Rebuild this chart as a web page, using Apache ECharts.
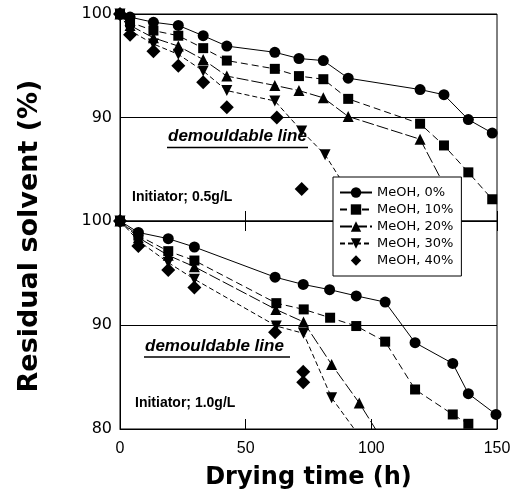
<!DOCTYPE html>
<html>
<head>
<meta charset="utf-8">
<script src="https://cdn.jsdelivr.net/npm/echarts@6/dist/echarts.min.js"></script>
<style>
html,body{margin:0;padding:0;background:#fff;}
#chart{width:514px;height:497px;}
</style>
</head>
<body>
<div id="chart"></div>
<script>
// ---- data (drying time h, residual solvent %) ----
const seriesNames = ['MeOH, 0%', 'MeOH, 10%', 'MeOH, 20%', 'MeOH, 30%', 'MeOH, 40%'];

// Top panel: initiator 0.5 g/L
const top_MeOH0  = [[0,100],[4,99.7],[13.3,99.2],[23.2,98.9],[33.1,97.9],[42.5,96.9],[61.6,96.3],[71.2,95.7],[80.9,95.5],[90.8,93.8],[119.4,92.7],[128.9,92.2],[138.6,89.8],[148.1,88.5]];
const top_MeOH10 = [[0,100],[4,99.2],[13.3,98.4],[23.2,97.9],[33.1,96.7],[42.5,95.5],[61.6,94.7],[71.2,94.0],[80.9,93.7],[90.8,91.8],[119.4,89.4],[128.9,87.3],[138.6,84.7],[148.1,82.1]];
const top_MeOH20 = [[0,100],[4,98.9],[13.3,97.7],[23.2,96.9],[33.1,95.6],[42.5,94.0],[61.6,93.1],[71.2,92.6],[80.9,91.9],[90.8,90.1],[119.4,87.9],[128.9,83.5]];
const top_MeOH30 = [[0,100],[4,98.4],[13.3,97.1],[23.2,96.1],[33.1,94.5],[42.5,92.6],[61.6,91.6],[72.3,88.7],[81.6,86.4],[91.5,82.6]];
const top_MeOH40 = [[0,100],[4,98.0],[13.3,96.4],[23.2,95.0],[33.1,93.4],[42.5,91.0],[62.4,90.0],[72.3,83.1]];

// Bottom panel: initiator 1.0 g/L
const bot_MeOH0  = [[0,100],[7.3,98.9],[19.2,98.3],[29.6,97.5],[61.7,94.6],[72.9,93.9],[83.4,93.4],[94,92.8],[105.5,92.2],[117.4,88.3],[132.4,86.3],[138.6,83.4],[149.6,81.4]];
const bot_MeOH10 = [[0,100],[7.3,98.6],[19.2,97.1],[29.6,96.2],[62.2,92.1],[73.1,91.5],[83.6,90.7],[94,89.9],[105.5,88.4],[117.4,83.8],[132.4,81.4],[138.6,80.5]];
const bot_MeOH20 = [[0,100],[7.3,98.4],[19.2,96.7],[29.6,95.6],[62,91.5],[73,90.3],[84.2,86.2],[95.2,82.5],[105,78.7]];
const bot_MeOH30 = [[0,100],[7.3,98.1],[19.2,96.0],[29.6,94.4],[62.2,89.9],[73,89.2],[84.2,83.0],[95,79.4]];
const bot_MeOH40 = [[0,100],[7.3,97.6],[19.2,95.3],[29.6,93.6],[61.7,89.3],[72.9,85.5],[72.9,84.5]];

const xTickValues = [0, 50, 100, 150];
const yTickValues = [80, 90, 100];

// ---- styles ----
const symbols   = ['circle', 'rect', 'triangle', 'triangle', 'diamond'];
const rotations = [0, 0, 0, 180, 0];
const sizes     = [11, 10, 11, 11, 14];
const dashes    = ['solid', [7, 4], [12, 3], [5, 3], null];

const topData = [top_MeOH0, top_MeOH10, top_MeOH20, top_MeOH30, top_MeOH40];
const botData = [bot_MeOH0, bot_MeOH10, bot_MeOH20, bot_MeOH30, bot_MeOH40];

const series = [];
[topData, botData].forEach(function (panel, p) {
  panel.forEach(function (d, i) {
    series.push({
      name: seriesNames[i],
      type: 'line',
      xAxisIndex: p === 0 ? 0 : 1,
      yAxisIndex: p,
      data: d,
      symbol: symbols[i],
      symbolSize: sizes[i],
      symbolRotate: rotations[i],
      showSymbol: true,
      itemStyle: { color: '#000' },
      lineStyle: dashes[i] ? { color: '#000', width: 1, type: dashes[i] } : { color: '#000', width: 0, opacity: 0 },
      clip: true,
      z: 3
    });
  });
});

const tickFont = 'DejaVu Sans';
function yAxisDef(idx, showMin) {
  return {
    gridIndex: idx, type: 'value', min: yTickValues[0], max: yTickValues[2], interval: 10,
    axisLine: { show: true, lineStyle: { color: '#000', width: 1 } },
    axisTick: { show: true, inside: true, length: 6, lineStyle: { color: '#000' } },
    axisLabel: { show: true, showMinLabel: showMin, margin: 8, color: '#000', fontFamily: tickFont, fontSize: 16 },
    splitLine: { show: true, lineStyle: { color: '#000', width: 1 } }
  };
}
function xAxisDef(grid, pos, labels) {
  return {
    gridIndex: grid, type: 'value', min: xTickValues[0], max: xTickValues[3], interval: 50, position: pos,
    axisLine: { show: true, lineStyle: { color: '#000', width: 1 } },
    axisTick: { show: true, inside: true, length: 10, lineStyle: { color: '#000' } },
    axisLabel: { show: labels, margin: 12, color: '#000', fontFamily: 'Liberation Sans', fontSize: 16 },
    splitLine: { show: false }
  };
}

const xAx1 = xAxisDef(1, 'bottom', true);
xAx1.name = 'Drying time (h)';
xAx1.nameLocation = 'middle';
xAx1.nameGap = 37;
xAx1.nameTextStyle = { fontFamily: 'DejaVu Sans', fontWeight: 'bold', fontSize: 24, color: '#000' };

const chart = echarts.init(document.getElementById('chart'), null, { renderer: 'canvas' });
chart.setOption({
  animation: false,
  backgroundColor: '#fff',
  grid: [
    { left: 120, top: 14, width: 377, height: 207, show: true, borderColor: '#000', borderWidth: 1, backgroundColor: 'transparent' },
    { left: 120, top: 221, width: 377, height: 208, show: true, borderColor: '#000', borderWidth: 1, backgroundColor: 'transparent' }
  ],
  xAxis: [xAxisDef(0, 'bottom', false), xAx1, xAxisDef(1, 'top', false)],
  yAxis: [yAxisDef(0, false), yAxisDef(1, true)],
  legend: {
    orient: 'vertical', left: 333, top: 177,
    data: seriesNames,
    itemWidth: 32, itemHeight: 13, itemGap: 4,
    padding: [9, 8, 9, 6],
    backgroundColor: '#fff', borderColor: '#000', borderWidth: 1, borderRadius: 0,
    textStyle: { fontFamily: 'DejaVu Sans', fontSize: 13, color: '#000' },
    z: 10
  },
  graphic: [
    { type: 'text', x: 30, y: 236, rotation: Math.PI / 2,
      style: { text: 'Residual solvent (%)', fontFamily: 'DejaVu Sans', fontWeight: 'bold', fontSize: 27, fill: '#000', align: 'center', verticalAlign: 'middle' } },
    { type: 'text', x: 168, y: 136,
      style: { text: 'demouldable line', fontFamily: 'Liberation Sans', fontWeight: 'bold', fontStyle: 'italic', fontSize: 17, fill: '#000', align: 'left', verticalAlign: 'middle' } },
    { type: 'line', shape: { x1: 167, y1: 147.5, x2: 308, y2: 147.5 }, style: { stroke: '#000', lineWidth: 1.5 } },
    { type: 'text', x: 145, y: 346,
      style: { text: 'demouldable line', fontFamily: 'Liberation Sans', fontWeight: 'bold', fontStyle: 'italic', fontSize: 17, fill: '#000', align: 'left', verticalAlign: 'middle' } },
    { type: 'line', shape: { x1: 144, y1: 357, x2: 290, y2: 357 }, style: { stroke: '#000', lineWidth: 1.5 } },
    { type: 'text', x: 132, y: 197,
      style: { text: 'Initiator; 0.5g/L', fontFamily: 'Liberation Sans', fontWeight: 'bold', fontSize: 14, fill: '#000', align: 'left', verticalAlign: 'middle' } },
    { type: 'text', x: 135, y: 403,
      style: { text: 'Initiator; 1.0g/L', fontFamily: 'Liberation Sans', fontWeight: 'bold', fontSize: 14, fill: '#000', align: 'left', verticalAlign: 'middle' } }
  ],
  series: series
});
</script>
</body>
</html>
